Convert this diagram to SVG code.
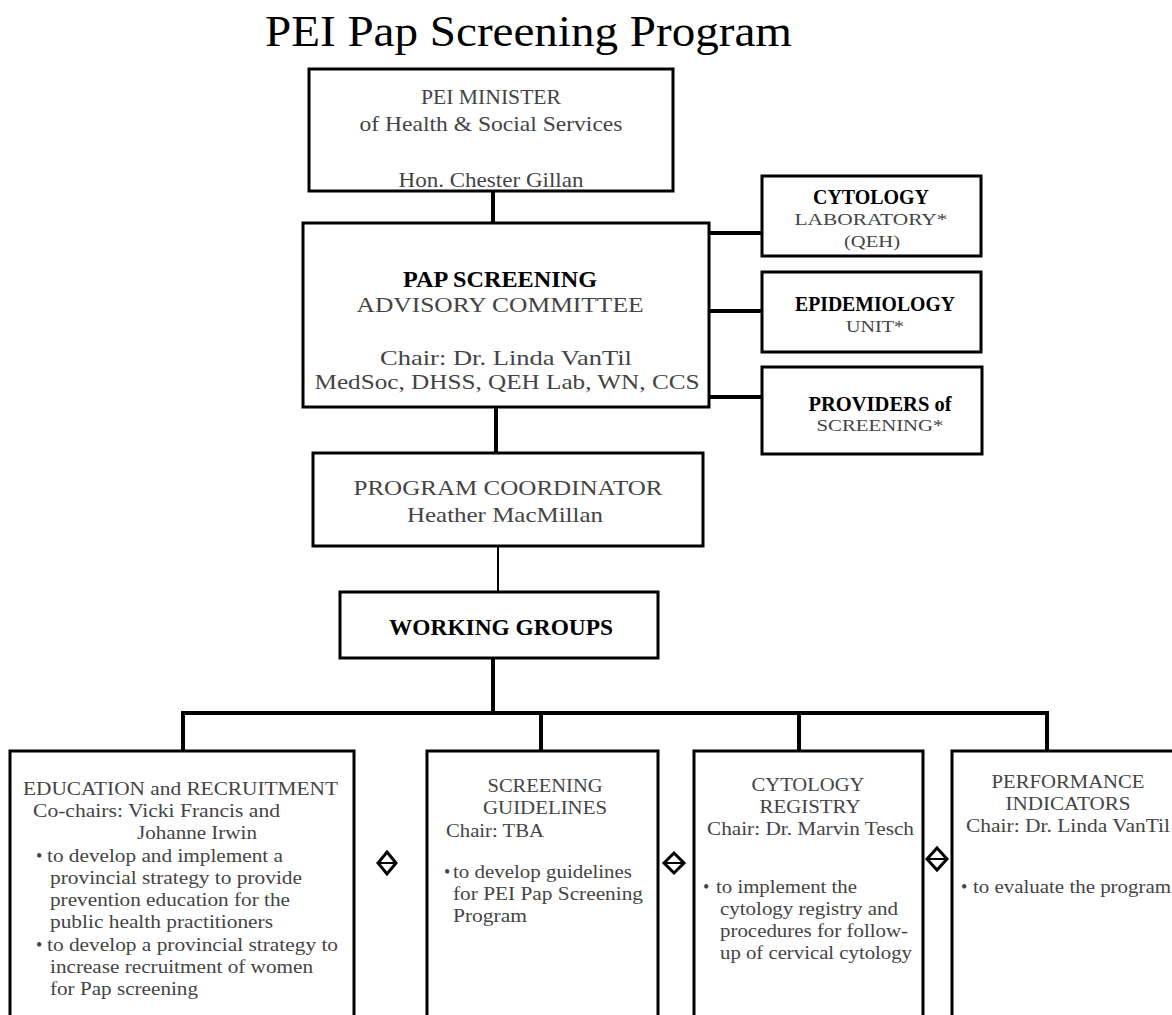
<svg xmlns="http://www.w3.org/2000/svg" width="1172" height="1015" viewBox="0 0 1172 1015">
<style>
.box{fill:#fff;stroke:#000;stroke-width:3}
.t{font-family:"Liberation Serif","Times New Roman",serif;font-size:21px;fill:#444}
.s{font-size:18px}
.c{text-anchor:middle}
.b{font-weight:bold;fill:#000}
.con{stroke:#000;stroke-width:4;fill:none}
.thin{stroke:#000;stroke-width:2;fill:none}
.dia{fill:#fff;stroke:#000;stroke-width:3}
</style>
<rect width="1172" height="1015" fill="#fff"/>
<text x="265" y="46" class="t" style="font-size:44px;fill:#000" textLength="527" lengthAdjust="spacingAndGlyphs">PEI Pap Screening Program</text>

<g id="connectors">
<line class="con" x1="493" y1="191" x2="493" y2="223"/>
<line class="con" x1="705" y1="233" x2="762" y2="233"/>
<line class="con" x1="705" y1="311" x2="762" y2="311"/>
<line class="con" x1="705" y1="397" x2="762" y2="397"/>
<line class="con" x1="496" y1="407" x2="496" y2="453"/>
<line class="thin" x1="498" y1="546" x2="498" y2="592"/>
<line class="con" x1="493" y1="658" x2="493" y2="713"/>
<polyline class="con" points="183,751 183,713 1047,713 1047,751"/>
<line class="con" x1="541" y1="713" x2="541" y2="751"/>
<line class="con" x1="799" y1="713" x2="799" y2="751"/>
</g>

<g id="minister">
<rect class="box" x="309" y="69" width="364" height="122"/>
<text class="t c" x="491" y="104" textLength="140" lengthAdjust="spacingAndGlyphs">PEI MINISTER</text>
<text class="t c" x="491" y="131" textLength="263" lengthAdjust="spacingAndGlyphs">of Health &amp; Social Services</text>
<text class="t c" x="491" y="187" textLength="185" lengthAdjust="spacingAndGlyphs">Hon.  Chester Gillan</text>
</g>

<g id="advisory">
<rect class="box" x="303" y="223" width="406" height="184"/>
<text class="t c b" x="500" y="287" style="font-size:24px" textLength="194" lengthAdjust="spacingAndGlyphs">PAP SCREENING</text>
<text class="t c" x="500" y="312" textLength="287" lengthAdjust="spacingAndGlyphs">ADVISORY COMMITTEE</text>
<text class="t c" x="506" y="365" textLength="252" lengthAdjust="spacingAndGlyphs">Chair:  Dr. Linda VanTil</text>
<text class="t c" x="507" y="389" textLength="385" lengthAdjust="spacingAndGlyphs">MedSoc, DHSS, QEH Lab, WN, CCS</text>
</g>

<g id="cytology-lab">
<rect class="box" x="762" y="176" width="219" height="80"/>
<text class="t c b" x="871" y="204" style="font-size:20px" textLength="116" lengthAdjust="spacingAndGlyphs">CYTOLOGY</text>
<text class="t c" x="871" y="225" style="font-size:17px" textLength="153" lengthAdjust="spacingAndGlyphs">LABORATORY*</text>
<text class="t c" x="872" y="247" style="font-size:17px" textLength="56" lengthAdjust="spacingAndGlyphs">(QEH)</text>
</g>

<g id="epidemiology">
<rect class="box" x="762" y="272" width="219" height="80"/>
<text class="t c b" x="875" y="311" style="font-size:20px" textLength="160" lengthAdjust="spacingAndGlyphs">EPIDEMIOLOGY</text>
<text class="t c" x="875" y="332" style="font-size:17px" textLength="58" lengthAdjust="spacingAndGlyphs">UNIT*</text>
</g>

<g id="providers">
<rect class="box" x="762" y="367" width="220" height="87"/>
<text class="t c b" x="880" y="411" style="font-size:20px" textLength="143" lengthAdjust="spacingAndGlyphs">PROVIDERS of</text>
<text class="t c" x="880" y="431" style="font-size:17px" textLength="127" lengthAdjust="spacingAndGlyphs">SCREENING*</text>
</g>

<g id="coordinator">
<rect class="box" x="313" y="453" width="390" height="93"/>
<text class="t c" x="508" y="495" textLength="309" lengthAdjust="spacingAndGlyphs">PROGRAM COORDINATOR</text>
<text class="t c" x="505" y="522" textLength="196" lengthAdjust="spacingAndGlyphs">Heather MacMillan</text>
</g>

<g id="working-groups">
<rect class="box" x="340" y="592" width="318" height="66"/>
<text class="t c b" x="501" y="635" style="font-size:24px" textLength="224" lengthAdjust="spacingAndGlyphs">WORKING GROUPS</text>
</g>

<g id="education">
<rect class="box" x="10" y="751" width="344" height="280"/>
<text class="t s" x="23" y="795" textLength="315" lengthAdjust="spacingAndGlyphs">EDUCATION and RECRUITMENT</text>
<text class="t s" x="33" y="817" textLength="247" lengthAdjust="spacingAndGlyphs">Co-chairs: Vicki Francis and</text>
<text class="t s" x="137" y="839" textLength="120" lengthAdjust="spacingAndGlyphs">Johanne Irwin</text>
<text class="t s" x="36" y="862">•</text>
<text class="t s" x="47" y="862" textLength="236" lengthAdjust="spacingAndGlyphs">to develop and implement a</text>
<text class="t s" x="50" y="884" textLength="252" lengthAdjust="spacingAndGlyphs">provincial strategy to provide</text>
<text class="t s" x="50" y="906" textLength="240" lengthAdjust="spacingAndGlyphs">prevention education for the</text>
<text class="t s" x="50" y="928" textLength="223" lengthAdjust="spacingAndGlyphs">public health practitioners</text>
<text class="t s" x="36" y="951">•</text>
<text class="t s" x="47" y="951" textLength="291" lengthAdjust="spacingAndGlyphs">to develop a provincial strategy to</text>
<text class="t s" x="50" y="973" textLength="263" lengthAdjust="spacingAndGlyphs">increase recruitment of women</text>
<text class="t s" x="50" y="995" textLength="148" lengthAdjust="spacingAndGlyphs">for Pap screening</text>
</g>

<g id="screening-guidelines">
<rect class="box" x="427" y="751" width="231" height="280"/>
<text class="t s c" x="545" y="792" textLength="115" lengthAdjust="spacingAndGlyphs">SCREENING</text>
<text class="t s c" x="545" y="814" textLength="124" lengthAdjust="spacingAndGlyphs">GUIDELINES</text>
<text class="t s" x="446" y="837" textLength="98" lengthAdjust="spacingAndGlyphs">Chair: TBA</text>
<text class="t s" x="444" y="878">•</text>
<text class="t s" x="453" y="878" textLength="179" lengthAdjust="spacingAndGlyphs">to develop guidelines</text>
<text class="t s" x="453" y="900" textLength="190" lengthAdjust="spacingAndGlyphs">for PEI Pap Screening</text>
<text class="t s" x="453" y="922" textLength="74" lengthAdjust="spacingAndGlyphs">Program</text>
</g>

<g id="cytology-registry">
<rect class="box" x="694" y="751" width="229" height="280"/>
<text class="t s c" x="808" y="791" textLength="113" lengthAdjust="spacingAndGlyphs">CYTOLOGY</text>
<text class="t s c" x="810" y="813" textLength="101" lengthAdjust="spacingAndGlyphs">REGISTRY</text>
<text class="t s" x="707" y="835" textLength="207" lengthAdjust="spacingAndGlyphs">Chair: Dr. Marvin Tesch</text>
<text class="t s" x="703" y="893">•</text>
<text class="t s" x="716" y="893" textLength="141" lengthAdjust="spacingAndGlyphs">to implement the</text>
<text class="t s" x="720" y="915" textLength="178" lengthAdjust="spacingAndGlyphs">cytology registry and</text>
<text class="t s" x="720" y="937" textLength="188" lengthAdjust="spacingAndGlyphs">procedures for follow-</text>
<text class="t s" x="720" y="959" textLength="192" lengthAdjust="spacingAndGlyphs">up of cervical cytology</text>
</g>

<g id="performance">
<rect class="box" x="952" y="751" width="240" height="280"/>
<text class="t s c" x="1068" y="788" textLength="153" lengthAdjust="spacingAndGlyphs">PERFORMANCE</text>
<text class="t s c" x="1068" y="810" textLength="125" lengthAdjust="spacingAndGlyphs">INDICATORS</text>
<text class="t s" x="966" y="832" textLength="204" lengthAdjust="spacingAndGlyphs">Chair: Dr. Linda VanTil</text>
<text class="t s" x="961" y="893">•</text>
<text class="t s" x="973" y="893" textLength="198" lengthAdjust="spacingAndGlyphs">to evaluate the program</text>
</g>

<g id="diamonds">
<polygon class="dia" points="387,852 396,863 387,874 378,863"/>
<line x1="380" y1="863" x2="394" y2="863" stroke="#000" stroke-width="2"/>
<polygon class="dia" points="674,853 684,863 674,873 664,863"/>
<line x1="666" y1="863" x2="682" y2="863" stroke="#000" stroke-width="2"/>
<polygon class="dia" points="937,848 947,859 937,870 927,859"/>
<line x1="929" y1="859" x2="945" y2="859" stroke="#000" stroke-width="2"/>
</g>
</svg>
